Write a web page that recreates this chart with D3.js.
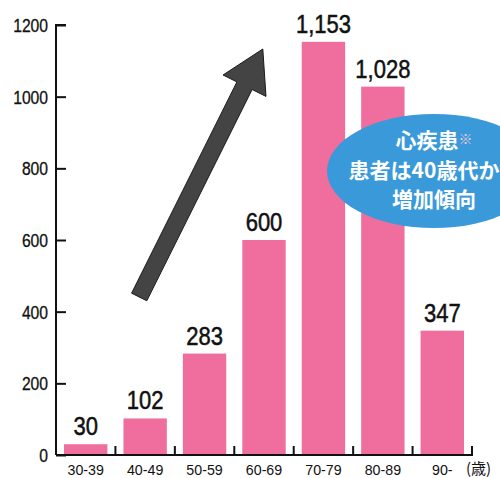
<!DOCTYPE html>
<html>
<head>
<meta charset="utf-8">
<script src="https://cdn.jsdelivr.net/npm/d3@7"></script>
<style>
  body { margin: 0; background: #fff; }
  svg { display: block; }
</style>
</head>
<body>
<div id="chart"></div>
<script>
// Data
const ageGroups = ["30-39", "40-49", "50-59", "60-69", "70-79", "80-89", "90-"];
const patients = [30, 102, 283, 600, 1153, 1028, 347];
const yTicks = [0, 200, 400, 600, 800, 1000, 1200];
const calloutLines = ["心疾患", "患者は40歳代か", "増加傾向"];

const margin = {top: 25, right: 28, bottom: 23, left: 56},
      width = 500 - margin.left - margin.right,
      height = 478 - margin.top - margin.bottom;

const numFont = "'Liberation Sans', Arial, sans-serif";
const jpFont = "'Noto Sans CJK JP', sans-serif";

const svg = d3.select("#chart")
  .append("svg")
    .attr("width", 500)
    .attr("height", 478)
  .append("g")
    .attr("transform", `translate(${margin.left},${margin.top})`);

const x = d3.scaleBand()
    .domain(ageGroups)
    .range([0, width])
    .paddingInner(0.27)
    .paddingOuter(0.135);

const y = d3.scaleLinear()
    .domain([0, 1200])
    .range([height, 0]);

// Band boundaries for the x ticks
const step = width / ageGroups.length;

// Bars
svg.selectAll(".bar")
  .data(patients)
  .enter().append("rect")
    .attr("class", "bar")
    .attr("x", (d, i) => x(ageGroups[i]))
    .attr("y", d => y(d))
    .attr("width", x.bandwidth())
    .attr("height", d => height - y(d))
    .attr("fill", "#ef6e9d");

// Value labels (condensed look via horizontal scale)
svg.selectAll(".val")
  .data(patients)
  .enter().append("text")
    .attr("class", "val")
    .attr("transform", (d, i) =>
      `translate(${x(ageGroups[i]) + x.bandwidth() / 2},${y(d) - 9}) scale(0.88,1)`)
    .attr("text-anchor", "middle")
    .style("font-family", numFont)
    .style("font-size", "25px")
    .style("fill", "#111")
    .style("stroke", "#111")
    .style("stroke-width", 0.5)
    .text(d => d3.format(",")(d));

// Arrow (tail / tip given in band steps and values)
const tail = [1.40 * step, y(441)],
      tip = [3.48 * step, y(1133)];
const dx = tip[0] - tail[0], dy = tip[1] - tail[1];
const len = Math.sqrt(dx * dx + dy * dy);
const u = [dx / len, dy / len], n = [-u[1], u[0]];
const headLen = 41, headW = 24, shaftW = 8.5;
const base = [tip[0] - headLen * u[0], tip[1] - headLen * u[1]];
const pt = (p, k) => [p[0] + k * n[0], p[1] + k * n[1]];
const arrowPts = [
  pt(tail, shaftW), pt(base, shaftW), pt(base, headW), tip,
  pt(base, -headW), pt(base, -shaftW), pt(tail, -shaftW)
];
svg.append("path")
    .attr("d", d3.line()(arrowPts) + "Z")
    .attr("fill", "#444444")
    .attr("stroke", "#1a1a1a")
    .attr("stroke-width", 1);

// Callout bubble
const bubble = svg.append("g")
    .attr("transform", `translate(${434 - margin.left},${171 - margin.top})`);
bubble.append("ellipse")
    .attr("rx", 107)
    .attr("ry", 57)
    .attr("fill", "#3a9ad9");
const lineY = [-23, 7, 36];
const lineX = [0, -10, 0];
bubble.selectAll(".callout")
  .data(calloutLines)
  .enter().append("text")
    .attr("class", "callout")
    .attr("x", (d, i) => lineX[i])
    .attr("y", (d, i) => lineY[i])
    .attr("text-anchor", "middle")
    .style("font-family", jpFont)
    .style("font-weight", "bold")
    .style("font-size", "21px")
    .style("fill", "#fff")
    .each(function(d, i) {
      const t = d3.select(this);
      t.append("tspan").text(d);
      if (i === 0) {
        t.append("tspan")
          .style("font-size", "14px")
          .style("font-weight", "normal")
          .style("fill", "#f3c9dd")
          .attr("dy", -4)
          .text("※");
      }
    });

// Y axis
const yAxis = svg.append("g")
    .call(d3.axisRight(y).tickValues(yTicks).tickSize(10).tickFormat(d3.format("d")));
yAxis.select(".domain")
    .attr("d", `M10,0H0V${height}`)
    .attr("stroke", "#111")
    .attr("stroke-width", 2);
yAxis.selectAll(".tick line").attr("stroke", "#111").attr("stroke-width", 2);
yAxis.selectAll(".tick text")
    .attr("x", 0)
    .attr("dy", "0.36em")
    .attr("transform", "translate(-8,0) scale(0.87,1)")
    .attr("text-anchor", "end")
    .style("font-family", numFont)
    .style("font-size", "18px")
    .style("fill", "#111")
    .style("stroke", "#111")
    .style("stroke-width", 0.3);

// X axis
const xAxis = svg.append("g")
    .attr("transform", `translate(0,${height})`);
xAxis.append("line")
    .attr("x1", 0).attr("x2", width)
    .attr("stroke", "#111").attr("stroke-width", 2);
xAxis.selectAll(".xtick")
  .data(ageGroups)
  .enter().append("line")
    .attr("class", "xtick")
    .attr("x1", (d, i) => (i + 1) * step)
    .attr("x2", (d, i) => (i + 1) * step)
    .attr("y1", 1).attr("y2", -9)
    .attr("stroke", "#111").attr("stroke-width", 2);
xAxis.selectAll(".xlabel")
  .data(ageGroups)
  .enter().append("text")
    .attr("class", "xlabel")
    .attr("transform", d => `translate(${x(d) + x.bandwidth() / 2},20) scale(0.95,1)`)
    .attr("text-anchor", "middle")
    .style("font-family", numFont)
    .style("font-size", "15px")
    .style("fill", "#111")
    .text(d => d);
xAxis.append("text")
    .attr("x", width - 6)
    .attr("y", 19)
    .style("font-family", jpFont)
    .style("font-size", "15px")
    .style("fill", "#111")
    .text("(歳)");
</script>
</body>
</html>
